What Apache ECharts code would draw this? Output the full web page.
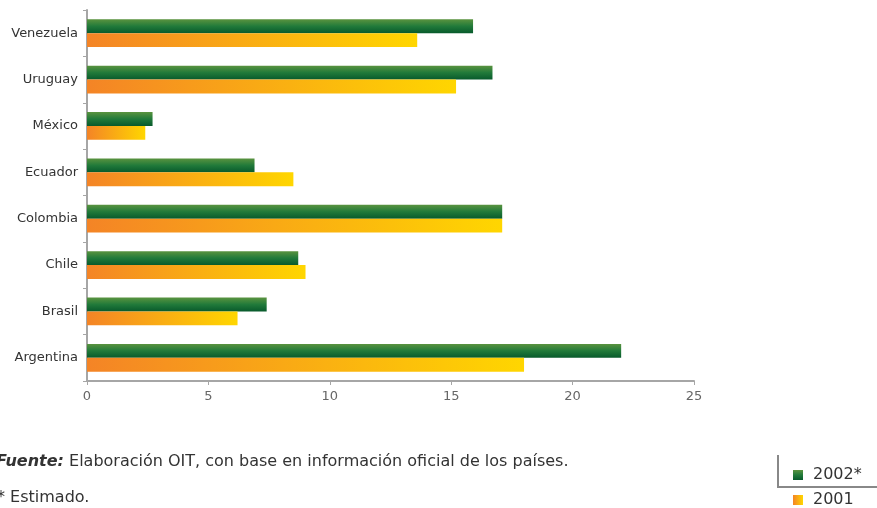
<!DOCTYPE html>
<html><head><meta charset="utf-8">
<script src="https://cdn.jsdelivr.net/npm/echarts@6/dist/echarts.min.js"></script>
<style>html,body{margin:0;padding:0;background:#fff}#c{width:877px;height:508px}</style>
</head><body><div id="c"></div>
<script>
const categories = ['Argentina','Brasil','Chile','Colombia','Ecuador','México','Uruguay','Venezuela'];
const values2002 = [22.0, 7.4, 8.7, 17.1, 6.9, 2.7, 16.7, 15.9];
const values2001 = [18.0, 6.2, 9.0, 17.1, 8.5, 2.4, 15.2, 13.6];
const xTicks = [0, 5, 10, 15, 20, 25];
const seriesNames = ['2002*', '2001'];

const green = new echarts.graphic.LinearGradient(0,0,0,1,[{offset:0,color:'#5a933f'},{offset:0.5,color:'#217a3a'},{offset:1,color:'#085a2c'}]);
const orange = new echarts.graphic.LinearGradient(0,0,1,0,[{offset:0,color:'#f48426'},{offset:1,color:'#ffd600'}]);
const font = 'DejaVu Sans, Verdana, sans-serif';
const legendBase = {orient:'vertical', left:793, itemWidth:10, itemHeight:10, padding:0, icon:'rect',
    textStyle:{fontFamily:font, fontSize:16, color:'#333', padding:[0,0,0,5]}};

const chart = echarts.init(document.getElementById('c'));
chart.setOption({
  animation:false,
  grid:{left:87, right:183, top:10, bottom:127, containLabel:false},
  xAxis:{type:'value', min:xTicks[0], max:xTicks[xTicks.length-1], interval:5,
    axisLine:{show:true, lineStyle:{color:'#a6a6a6', width:2}},
    axisTick:{show:true, length:4, lineStyle:{color:'#a6a6a6'}},
    axisLabel:{color:'#666', fontFamily:font, fontSize:13, margin:9},
    splitLine:{show:false}},
  yAxis:{type:'category', data:categories,
    axisLine:{show:true, lineStyle:{color:'#a6a6a6', width:2}},
    axisTick:{show:true, length:4, lineStyle:{color:'#a6a6a6'}},
    axisLabel:{color:'#333', fontFamily:font, fontSize:13, margin:9}},
  legend:[
    Object.assign({}, legendBase, {top:467, data:[seriesNames[0]]}),
    Object.assign({}, legendBase, {top:492, data:[seriesNames[1]]})
  ],
  series:[
    {name:seriesNames[0], type:'bar', data:values2002, itemStyle:{color:green}, barGap:'0%', barCategoryGap:'40%'},
    {name:seriesNames[1], type:'bar', data:values2001, itemStyle:{color:orange}, barGap:'0%', barCategoryGap:'40%'}
  ],
  graphic:[
    {type:'text', left:-4, top:454, style:{text:'{b|Fuente:} Elaboración OIT, con base en información oficial de los países.', font:'16px '+font, fill:'#333',
      rich:{b:{fontWeight:'bold', fontStyle:'italic', fontSize:16, fontFamily:font, fill:'#333'}}}},
    {type:'text', left:-3, top:490, style:{text:'* Estimado.', font:'16px '+font, fill:'#333'}},
    {type:'polyline', shape:{points:[[778,455],[778,487],[877,487]]}, style:{stroke:'#888', lineWidth:2, fill:null}}
  ]
});
</script></body></html>
